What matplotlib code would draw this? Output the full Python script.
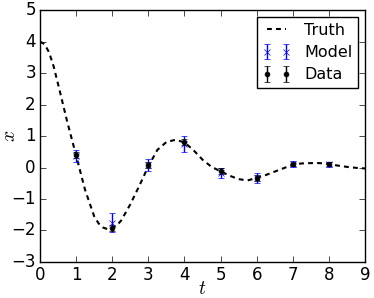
import matplotlib
matplotlib.use('Agg')
import matplotlib.pyplot as plt

# truth curve
truth_t = [0, 0.125, 0.25, 0.375, 0.5, 0.75, 1.0, 1.25, 1.5, 1.625, 1.75,
           1.875, 2.0, 2.125, 2.25, 2.5, 2.75, 3.0, 3.25, 3.5, 3.75, 4.0,
           4.25, 4.5, 4.75, 5.0, 5.25, 5.5, 5.75, 6.0, 6.25, 6.5, 6.75, 7.0,
           7.25, 7.5, 7.75, 8.0, 8.25, 8.5, 8.75, 9.0]
truth_x = [4.0, 3.92, 3.66, 3.22, 2.65, 1.47, 0.38, -0.72, -1.55, -1.78,
           -1.91, -1.96, -1.93, -1.84, -1.68, -1.17, -0.58, 0.04, 0.56, 0.81,
           0.88, 0.80, 0.55, 0.25, 0.02, -0.12, -0.26, -0.37, -0.41, -0.33,
           -0.24, -0.13, -0.02, 0.09, 0.13, 0.14, 0.14, 0.11, 0.06, 0.02,
           -0.01, -0.03]

# observations
obs_t = [1, 2, 3, 4, 5, 6, 7, 8]
data_x = [0.40, -1.93, 0.08, 0.80, -0.12, -0.33, 0.10, 0.11]
data_err = [0.1, 0.1, 0.1, 0.1, 0.1, 0.1, 0.05, 0.05]
model_x = [0.36, -1.76, 0.08, 0.75, -0.18, -0.33, 0.12, 0.11]
model_err = [0.19, 0.30, 0.19, 0.26, 0.15, 0.16, 0.10, 0.08]

plt.style.use('classic')
plt.rcParams['font.size'] = 12

fig = plt.figure(figsize=(3.74, 2.98), dpi=100)
ax = fig.add_axes([0.107, 0.121, 0.869, 0.845])

ax.plot(truth_t, truth_x, 'k--', lw=1.5, dashes=(3.5, 3), label='Truth')
ax.errorbar(obs_t, model_x, yerr=model_err, fmt='bx', ecolor='b',
            mec='b', ms=4, capsize=2.5, label='Model')
ax.errorbar(obs_t, data_x, yerr=data_err, fmt='ko', ecolor='k',
            ms=3.5, capsize=2.5, label='Data')

ax.set_xlim(0, 9)
ax.set_ylim(-3, 5)
ax.tick_params(labelsize=12, pad=3)
ax.set_xlabel('$t$', fontsize=14, labelpad=-4)
ax.set_ylabel('$x$', fontsize=14)
ax.yaxis.set_label_coords(-0.065, 0.5)
ax.legend(loc='upper right', fontsize=11.5, handlelength=1.8,
          borderaxespad=0.45, labelspacing=0.45, borderpad=0.35)

fig.savefig('out.png', dpi=100)
